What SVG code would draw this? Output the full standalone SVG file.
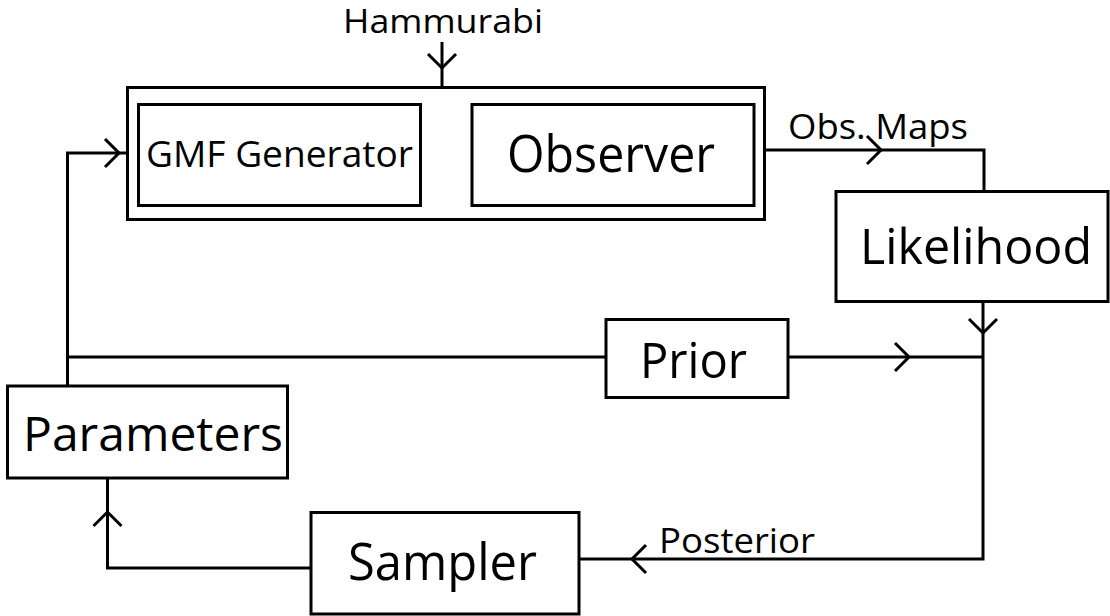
<svg xmlns="http://www.w3.org/2000/svg" width="1110" height="616" viewBox="0 0 1110 616">
<defs>
<style>
.box{fill:#fff;stroke:#000;stroke-width:3}
.ln{fill:none;stroke:#000;stroke-width:3}
text{font-family:"Open Sans","Noto Sans","DejaVu Sans",sans-serif;fill:#000}
</style>
<marker id="chev" markerUnits="userSpaceOnUse" viewBox="-17 -17 20 34" refX="0" refY="0" markerWidth="20" markerHeight="34" orient="auto" overflow="visible">
<path d="M-14 -14 L0 0 L-14 14" fill="none" stroke="#000" stroke-width="3"/>
</marker>
</defs>
<rect width="1110" height="616" fill="#fff"/>
<g id="connectors">
<path class="ln" d="M442 42 V68" marker-end="url(#chev)"/>
<path class="ln" d="M442 68 V87"/>
<path class="ln" d="M67.5 386 V153 H119" marker-end="url(#chev)"/>
<path class="ln" d="M119 153 H127"/>
<path class="ln" d="M67.5 357 H606"/>
<path class="ln" d="M421 153 H452" marker-end="url(#chev)"/>
<path class="ln" d="M452 153 H472"/>
<path class="ln" d="M765 150 H881" marker-end="url(#chev)"/>
<path class="ln" d="M881 150 H984 V191"/>
<path class="ln" d="M983 301 V333" marker-end="url(#chev)"/>
<path class="ln" d="M983 333 V559 H632" marker-end="url(#chev)"/>
<path class="ln" d="M632 559 H579"/>
<path class="ln" d="M788 357 H909" marker-end="url(#chev)"/>
<path class="ln" d="M909 357 H983"/>
<path class="ln" d="M311 568 H107.5 V512" marker-end="url(#chev)"/>
<path class="ln" d="M107.5 512 V478"/>
</g>
<g id="hammurabi">
<text x="343" y="33" font-size="33" textLength="200" lengthAdjust="spacingAndGlyphs">Hammurabi</text>
</g>
<g id="container">
<rect class="box" x="127.5" y="87.5" width="637" height="132"/>
</g>
<g id="gmf-generator">
<rect class="box" x="138.5" y="104.5" width="282" height="101"/>
<text x="146" y="167" font-size="37" textLength="267" lengthAdjust="spacingAndGlyphs">GMF Generator</text>
</g>
<g id="observer">
<rect class="box" x="472" y="104.5" width="282" height="101"/>
<text x="507" y="172" font-size="52" textLength="208" lengthAdjust="spacingAndGlyphs">Observer</text>
</g>
<g id="obs-maps">
<text x="788" y="139" font-size="34" textLength="180" lengthAdjust="spacingAndGlyphs">Obs. Maps</text>
</g>
<g id="likelihood">
<rect class="box" x="836" y="191.5" width="272" height="110"/>
<text x="860" y="264" font-size="50" textLength="232" lengthAdjust="spacingAndGlyphs">Likelihood</text>
</g>
<g id="prior">
<rect class="box" x="606" y="319.5" width="182" height="78"/>
<text x="640" y="378" font-size="49" textLength="107" lengthAdjust="spacingAndGlyphs">Prior</text>
</g>
<g id="parameters">
<rect class="box" x="7.5" y="386" width="280" height="92"/>
<text x="23" y="451" font-size="47" textLength="260" lengthAdjust="spacingAndGlyphs">Parameters</text>
</g>
<g id="sampler">
<rect class="box" x="311" y="512.5" width="268" height="101.5"/>
<text x="348" y="580" font-size="52" textLength="189" lengthAdjust="spacingAndGlyphs">Sampler</text>
</g>
<g id="posterior">
<text x="659" y="553" font-size="35" textLength="156" lengthAdjust="spacingAndGlyphs">Posterior</text>
</g>
</svg>
